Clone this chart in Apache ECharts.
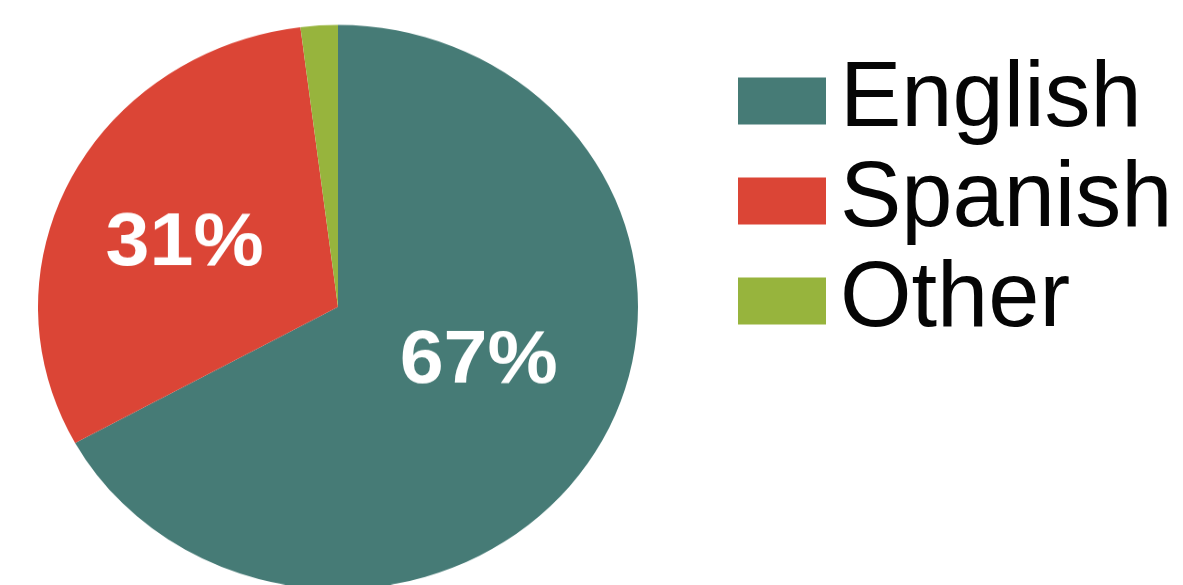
<!DOCTYPE html>
<html><head><meta charset="utf-8">
<script src="https://cdn.jsdelivr.net/npm/echarts@6/dist/echarts.min.js"></script>
<style>
html,body{margin:0;padding:0;background:#fff;overflow:hidden;width:1183px;height:585px}
#pie{position:absolute;left:0;top:0;width:1183px;height:622px;transform:scaleY(0.94);transform-origin:0 0}
#legend{position:absolute;left:0;top:0;width:1183px;height:585px}
</style></head><body>
<div id="pie"></div><div id="legend"></div>
<script>
const categories = ['English', 'Spanish', 'Other'];
const values = [67, 31, 2];
const colors = ['#467B76', '#DB4536', '#97B43D'];
const showLabel = [true, true, false];
const labelOffsets = [[9, -19], [-17, 3], [0, 0]];
const FONT = '"Liberation Sans", Arial, Helvetica, sans-serif';

const pieData = categories.map((c, i) => ({
  name: c, value: values[i],
  itemStyle: { color: colors[i] },
  label: { show: showLabel[i], offset: labelOffsets[i] }
}));

const pie = echarts.init(document.getElementById('pie'), null, { renderer: 'canvas' });
pie.setOption({
  animation: false,
  backgroundColor: 'transparent',
  series: [{
    type: 'pie',
    center: [338, 326.6],
    radius: 300,
    startAngle: 90,
    clockwise: true,
    avoidLabelOverlap: false,
    silent: true,
    data: pieData,
    itemStyle: { borderWidth: 0 },
    label: {
      position: 'inside',
      formatter: '{d}%',
      color: '#ffffff',
      fontSize: 79,
      fontWeight: 'bold',
      fontFamily: FONT
    },
    labelLine: { show: false }
  }]
});

const leg = echarts.init(document.getElementById('legend'), null, { renderer: 'canvas' });
leg.setOption({
  animation: false,
  backgroundColor: 'transparent',
  legend: {
    data: categories,
    orient: 'vertical',
    left: 738,
    top: 51,
    padding: 0,
    itemGap: 0,
    itemWidth: 88,
    itemHeight: 47,
    icon: 'rect',
    selectedMode: false,
    textStyle: {
      fontSize: 92,
      color: '#050505',
      fontFamily: FONT,
      lineHeight: 80,
      padding: [0, 0, 20, 9]
    }
  },
  series: [{
    type: 'pie',
    radius: 0,
    center: [-100, -100],
    silent: true,
    label: { show: false },
    data: categories.map((c, i) => ({ name: c, value: values[i], itemStyle: { color: colors[i] } }))
  }]
});
</script>
</body></html>
